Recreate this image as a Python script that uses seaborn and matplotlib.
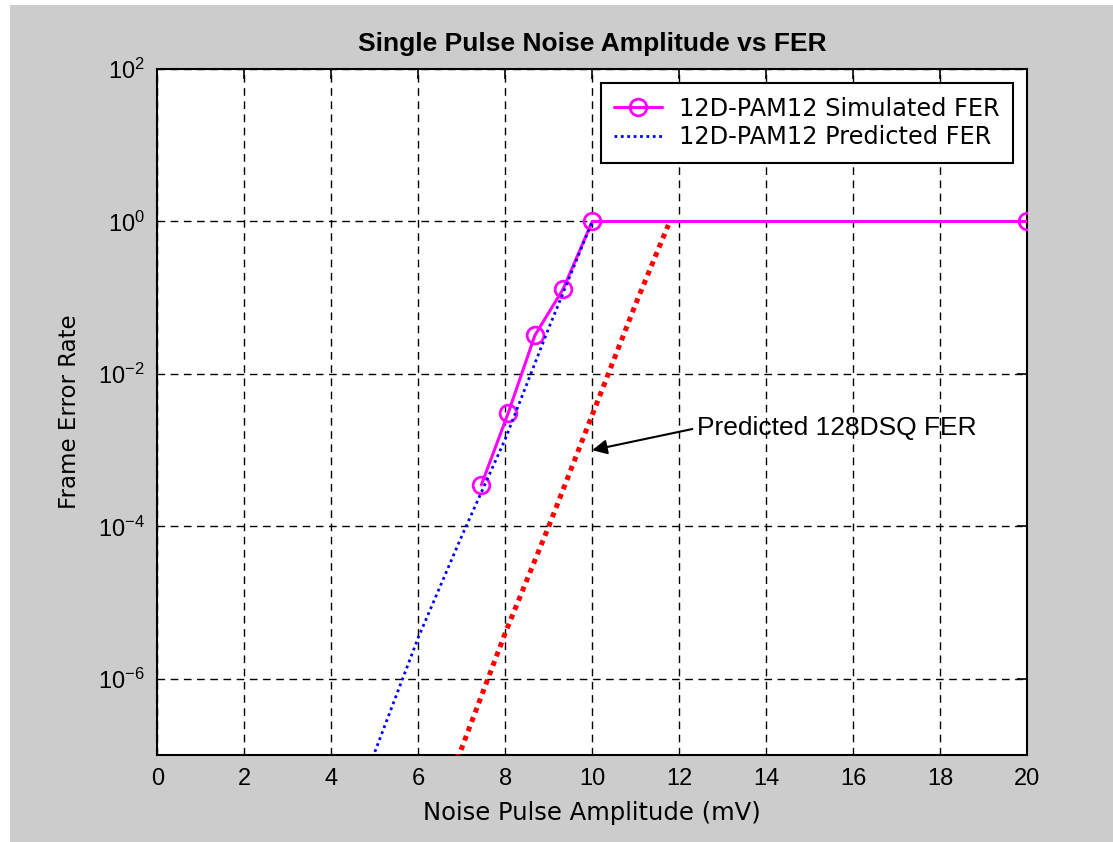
import matplotlib
matplotlib.use("Agg")
import matplotlib.pyplot as plt
import seaborn as sns
from matplotlib.patches import Rectangle
from matplotlib.ticker import FixedLocator, NullLocator, LogFormatterSciNotation

# ---- data ----
sim_x = [7.45, 8.07, 8.68, 9.33, 10.0, 20.0]
sim_fer = [3.5e-4, 3.1e-3, 3.2e-2, 0.13, 1.0, 1.0]

pred_x = [5.0, 6.0, 7.0, 8.0, 9.0, 10.0]
pred_fer = [1.1e-7, 3.5e-6, 7.5e-5, 1.4e-3, 4.0e-2, 1.0]

dsq_x = [6.9, 8.0, 9.0, 10.0, 11.0, 11.75]
dsq_fer = [8.8e-8, 4.0e-6, 1.0e-4, 2.9e-3, 8.3e-2, 0.9]

x_ticks = [0, 2, 4, 6, 8, 10, 12, 14, 16, 18, 20]
y_ticks = [1e-6, 1e-4, 1e-2, 1e0, 1e2]

sim_label = "12D-PAM12 Simulated FER"
pred_label = "12D-PAM12 Predicted FER"
dsq_note = "Predicted 128DSQ FER"
title = "Single Pulse Noise Amplitude vs FER"
x_label = "Noise Pulse Amplitude (mV)"
y_label = "Frame Error Rate"

# ---- style ----
sns.set_theme(style="white")
plt.rcParams["font.family"] = ["DejaVu Sans"]
plt.rcParams["mathtext.fontset"] = "custom"
plt.rcParams["mathtext.rm"] = "Liberation Sans"
plt.rcParams["mathtext.it"] = "Liberation Sans:italic"
plt.rcParams["mathtext.bf"] = "Liberation Sans:bold"

fig = plt.figure(figsize=(11.13, 8.42), dpi=100, facecolor="white")
fig.add_artist(Rectangle((10 / 1113, 0), 1, 1 - 5 / 842, transform=fig.transFigure,
                         facecolor="#cccccc", edgecolor="none", zorder=-10))

ax = fig.add_axes([0.1415, 0.1033, 0.9227 - 0.1415, 0.918 - 0.1033])
ax.set_facecolor("white")
ax.set_yscale("log")

sns.lineplot(x=dsq_x, y=dsq_fer, ax=ax, estimator=None, sort=False,
             color="#ff0000", linewidth=3.6, linestyle=(0, (1, 1)),
             dash_capstyle="butt", zorder=3)
sns.lineplot(x=sim_x, y=sim_fer, ax=ax, estimator=None, sort=False,
             color="#ff00ff", linewidth=2.2, marker="o", markersize=12,
             markerfacecolor="none", markeredgecolor="#ff00ff",
             markeredgewidth=2, label=sim_label, zorder=4)
sns.lineplot(x=pred_x, y=pred_fer, ax=ax, estimator=None, sort=False,
             color="#0000ff", linewidth=2.0, linestyle=(0, (1, 1.3)),
             label=pred_label, zorder=5)

ax.set_xlim(0, 20)
ax.set_ylim(1e-7, 1e2)
ax.xaxis.set_major_locator(FixedLocator(x_ticks))
ax.set_xticklabels([str(t) for t in x_ticks])
ax.yaxis.set_major_locator(FixedLocator(y_ticks))
ax.yaxis.set_major_formatter(LogFormatterSciNotation())
ax.yaxis.set_minor_locator(NullLocator())
ax.xaxis.set_minor_locator(NullLocator())

ax.grid(True, which="major", color="black", linestyle=(0, (5.5, 4)), linewidth=1.0)
ax.set_axisbelow(True)

ax.tick_params(axis="both", which="major", direction="in", top=True, right=True,
               length=7, width=1.2, color="black", pad=9)
for lab in ax.get_xticklabels() + ax.get_yticklabels():
    lab.set_fontfamily("Liberation Sans")
    lab.set_fontsize(17)
    lab.set_color("black")
for s in ax.spines.values():
    s.set_visible(True)
    s.set_color("black")
    s.set_linewidth(1.5)

ax.set_title(title, fontsize=19, fontweight="bold", family="Liberation Sans",
             pad=13, color="black")
ax.set_xlabel(x_label, fontsize=17.5, labelpad=8, color="black")
ax.set_ylabel(y_label, fontsize=16.5, labelpad=12, color="black")

leg = ax.legend(loc="upper right", fontsize=17.3, frameon=True, fancybox=False,
                framealpha=1, edgecolor="black", borderaxespad=0.6,
                handlelength=2.0, handletextpad=0.7, labelspacing=0.2,
                borderpad=0.55)
leg.get_frame().set_linewidth(1.5)
for t in leg.get_texts():
    t.set_color("black")

ax.annotate(dsq_note, xy=(10.0, 1.0e-3), xytext=(12.41, 1.95e-3),
            fontsize=19, family="Liberation Sans", ha="left", va="center",
            color="black", zorder=6,
            arrowprops=dict(arrowstyle="-|>", color="black", lw=1.5,
                            mutation_scale=22, shrinkA=1, shrinkB=0,
                            relpos=(0, 0.5)))

fig.savefig("out.png", dpi=100, facecolor=fig.get_facecolor())
